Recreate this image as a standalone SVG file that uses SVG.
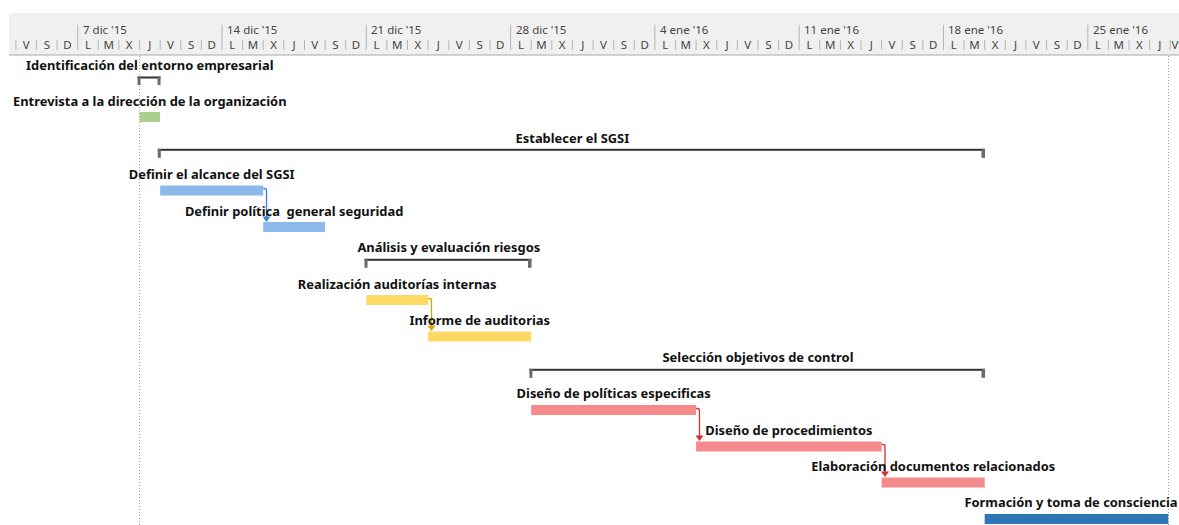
<svg xmlns="http://www.w3.org/2000/svg" width="1179" height="525" viewBox="0 0 1179 525">
<defs>
<style>
.hdr{font-family:"Noto Sans","Liberation Sans",sans-serif;font-size:11.5px;fill:#444}
.day{font-family:"Noto Sans","Liberation Sans",sans-serif;font-size:11.5px;fill:#444;text-anchor:middle}
.lbl{font-family:"Noto Sans","Liberation Sans",sans-serif;font-size:12.9px;font-weight:700;fill:#111;text-anchor:middle}
.tick{stroke:#b4b4b4;stroke-width:1}
.wk{stroke:#b4b4b4;stroke-width:1}
.dot{stroke:#9a9a9a;stroke-width:1;stroke-dasharray:1 2}
.btop{fill:#333}
.bleg{fill:#6a6a6a}
.g{fill:#a9d18e}
.b{fill:#8cb8ea}
.y{fill:#ffd966}
.r{fill:#f58a8a}
.d{fill:#2e75b6}
.cb{fill:none;stroke:#3c7fd6;stroke-width:1.3}
.cy{fill:none;stroke:#d9a400;stroke-width:1.3}
.cr{fill:none;stroke:#d32f2f;stroke-width:1.3}
</style>
</defs>
<rect x="0" y="0" width="1179" height="525" fill="#fff"/>
<g id="timescale">
<rect x="9" y="13" width="1170" height="42" fill="#f0f0f0"/>
<line x1="9" y1="55" x2="1179" y2="55" stroke="#a8a8a8" stroke-width="1"/>
<g>
<line class="tick" x1="15.9" y1="40" x2="15.9" y2="50"/>
<line class="tick" x1="36.5" y1="40" x2="36.5" y2="50"/>
<line class="tick" x1="57.1" y1="40" x2="57.1" y2="50"/>
<line class="wk" x1="77.7" y1="25" x2="77.7" y2="50"/>
<line class="tick" x1="98.3" y1="40" x2="98.3" y2="50"/>
<line class="tick" x1="118.9" y1="40" x2="118.9" y2="50"/>
<line class="tick" x1="139.5" y1="40" x2="139.5" y2="50"/>
<line class="tick" x1="160.2" y1="40" x2="160.2" y2="50"/>
<line class="tick" x1="180.8" y1="40" x2="180.8" y2="50"/>
<line class="tick" x1="201.4" y1="40" x2="201.4" y2="50"/>
<line class="wk" x1="222" y1="25" x2="222" y2="50"/>
<line class="tick" x1="242.6" y1="40" x2="242.6" y2="50"/>
<line class="tick" x1="263.2" y1="40" x2="263.2" y2="50"/>
<line class="tick" x1="283.8" y1="40" x2="283.8" y2="50"/>
<line class="tick" x1="304.5" y1="40" x2="304.5" y2="50"/>
<line class="tick" x1="325.1" y1="40" x2="325.1" y2="50"/>
<line class="tick" x1="345.7" y1="40" x2="345.7" y2="50"/>
<line class="wk" x1="366.3" y1="25" x2="366.3" y2="50"/>
<line class="tick" x1="386.9" y1="40" x2="386.9" y2="50"/>
<line class="tick" x1="407.5" y1="40" x2="407.5" y2="50"/>
<line class="tick" x1="428.1" y1="40" x2="428.1" y2="50"/>
<line class="tick" x1="448.8" y1="40" x2="448.8" y2="50"/>
<line class="tick" x1="469.4" y1="40" x2="469.4" y2="50"/>
<line class="tick" x1="490" y1="40" x2="490" y2="50"/>
<line class="wk" x1="510.6" y1="25" x2="510.6" y2="50"/>
<line class="tick" x1="531.2" y1="40" x2="531.2" y2="50"/>
<line class="tick" x1="551.8" y1="40" x2="551.8" y2="50"/>
<line class="tick" x1="572.4" y1="40" x2="572.4" y2="50"/>
<line class="tick" x1="593.1" y1="40" x2="593.1" y2="50"/>
<line class="tick" x1="613.7" y1="40" x2="613.7" y2="50"/>
<line class="tick" x1="634.3" y1="40" x2="634.3" y2="50"/>
<line class="wk" x1="654.9" y1="25" x2="654.9" y2="50"/>
<line class="tick" x1="675.5" y1="40" x2="675.5" y2="50"/>
<line class="tick" x1="696.1" y1="40" x2="696.1" y2="50"/>
<line class="tick" x1="716.7" y1="40" x2="716.7" y2="50"/>
<line class="tick" x1="737.4" y1="40" x2="737.4" y2="50"/>
<line class="tick" x1="758" y1="40" x2="758" y2="50"/>
<line class="tick" x1="778.6" y1="40" x2="778.6" y2="50"/>
<line class="wk" x1="799.2" y1="25" x2="799.2" y2="50"/>
<line class="tick" x1="819.8" y1="40" x2="819.8" y2="50"/>
<line class="tick" x1="840.4" y1="40" x2="840.4" y2="50"/>
<line class="tick" x1="861" y1="40" x2="861" y2="50"/>
<line class="tick" x1="881.6" y1="40" x2="881.6" y2="50"/>
<line class="tick" x1="902.3" y1="40" x2="902.3" y2="50"/>
<line class="tick" x1="922.9" y1="40" x2="922.9" y2="50"/>
<line class="wk" x1="943.5" y1="25" x2="943.5" y2="50"/>
<line class="tick" x1="964.1" y1="40" x2="964.1" y2="50"/>
<line class="tick" x1="984.7" y1="40" x2="984.7" y2="50"/>
<line class="tick" x1="1005.3" y1="40" x2="1005.3" y2="50"/>
<line class="tick" x1="1025.9" y1="40" x2="1025.9" y2="50"/>
<line class="tick" x1="1046.6" y1="40" x2="1046.6" y2="50"/>
<line class="tick" x1="1067.2" y1="40" x2="1067.2" y2="50"/>
<line class="wk" x1="1087.8" y1="25" x2="1087.8" y2="50"/>
<line class="tick" x1="1108.4" y1="40" x2="1108.4" y2="50"/>
<line class="tick" x1="1129" y1="40" x2="1129" y2="50"/>
<line class="tick" x1="1149.6" y1="40" x2="1149.6" y2="50"/>
<line class="tick" x1="1170.2" y1="40" x2="1170.2" y2="50"/>
</g>
<g>
<text class="hdr" x="83" y="34">7 dic '15</text>
<text class="hdr" x="227" y="34">14 dic '15</text>
<text class="hdr" x="371" y="34">21 dic '15</text>
<text class="hdr" x="516" y="34">28 dic '15</text>
<text class="hdr" x="660" y="34">4 ene '16</text>
<text class="hdr" x="804" y="34">11 ene '16</text>
<text class="hdr" x="948" y="34">18 ene '16</text>
<text class="hdr" x="1093" y="34">25 ene '16</text>
</g>
<g>
<text class="day" x="26.2" y="48.5">V</text>
<text class="day" x="46.8" y="48.5">S</text>
<text class="day" x="67.4" y="48.5">D</text>
<text class="day" x="88" y="48.5">L</text>
<text class="day" x="108.6" y="48.5">M</text>
<text class="day" x="129.2" y="48.5">X</text>
<text class="day" x="149.8" y="48.5">J</text>
<text class="day" x="170.5" y="48.5">V</text>
<text class="day" x="191.1" y="48.5">S</text>
<text class="day" x="211.7" y="48.5">D</text>
<text class="day" x="232.3" y="48.5">L</text>
<text class="day" x="252.9" y="48.5">M</text>
<text class="day" x="273.5" y="48.5">X</text>
<text class="day" x="294.1" y="48.5">J</text>
<text class="day" x="314.8" y="48.5">V</text>
<text class="day" x="335.4" y="48.5">S</text>
<text class="day" x="356" y="48.5">D</text>
<text class="day" x="376.6" y="48.5">L</text>
<text class="day" x="397.2" y="48.5">M</text>
<text class="day" x="417.8" y="48.5">X</text>
<text class="day" x="438.4" y="48.5">J</text>
<text class="day" x="459.1" y="48.5">V</text>
<text class="day" x="479.7" y="48.5">S</text>
<text class="day" x="500.3" y="48.5">D</text>
<text class="day" x="520.9" y="48.5">L</text>
<text class="day" x="541.5" y="48.5">M</text>
<text class="day" x="562.1" y="48.5">X</text>
<text class="day" x="582.7" y="48.5">J</text>
<text class="day" x="603.4" y="48.5">V</text>
<text class="day" x="624" y="48.5">S</text>
<text class="day" x="644.6" y="48.5">D</text>
<text class="day" x="665.2" y="48.5">L</text>
<text class="day" x="685.8" y="48.5">M</text>
<text class="day" x="706.4" y="48.5">X</text>
<text class="day" x="727" y="48.5">J</text>
<text class="day" x="747.7" y="48.5">V</text>
<text class="day" x="768.3" y="48.5">S</text>
<text class="day" x="788.9" y="48.5">D</text>
<text class="day" x="809.5" y="48.5">L</text>
<text class="day" x="830.1" y="48.5">M</text>
<text class="day" x="850.7" y="48.5">X</text>
<text class="day" x="871.3" y="48.5">J</text>
<text class="day" x="892" y="48.5">V</text>
<text class="day" x="912.6" y="48.5">S</text>
<text class="day" x="933.2" y="48.5">D</text>
<text class="day" x="953.8" y="48.5">L</text>
<text class="day" x="974.4" y="48.5">M</text>
<text class="day" x="995" y="48.5">X</text>
<text class="day" x="1015.6" y="48.5">J</text>
<text class="day" x="1036.3" y="48.5">V</text>
<text class="day" x="1056.9" y="48.5">S</text>
<text class="day" x="1077.5" y="48.5">D</text>
<text class="day" x="1098.1" y="48.5">L</text>
<text class="day" x="1118.7" y="48.5">M</text>
<text class="day" x="1139.3" y="48.5">X</text>
<text class="day" x="1159.9" y="48.5">J</text>
<text class="day" x="1175" y="48.5">V</text>
</g>
</g>
<g id="gridlines">
<line class="dot" x1="139.5" y1="56" x2="139.5" y2="525"/>
<line class="dot" x1="1168.5" y1="56" x2="1168.5" y2="525"/>
</g>
<g id="connectors">
<path class="cb" d="M263.2,188.5 H264.5 Q266.5,188.5 266.5,190.5 V217"/>
<polygon points="262.5,216.5 270.5,216.5 266.5,222" fill="#3c7fd6"/>
<path class="cy" d="M428.1,298.5 H429.5 Q431.5,298.5 431.5,300.5 V326"/>
<polygon points="427.5,325.5 435.5,325.5 431.5,331" fill="#d9a400"/>
<path class="cr" d="M696.1,408.5 H697.5 Q699.5,408.5 699.5,410.5 V436"/>
<polygon points="695.5,435.5 703.5,435.5 699.5,441" fill="#d32f2f"/>
<path class="cr" d="M881.6,444.5 H883 Q885,444.5 885,446.5 V472"/>
<polygon points="881,471.5 889,471.5 885,477" fill="#d32f2f"/>
</g>
<g id="t0">
<text class="lbl" x="149.8" y="70">Identificación del entorno empresarial</text>
<rect class="btop" x="137.5" y="76.5" width="23" height="2"/>
<rect class="bleg" x="137.5" y="76.5" width="3" height="8.5"/>
<rect class="bleg" x="157.5" y="76.5" width="3" height="8.5"/>
</g>
<g id="t1">
<text class="lbl" x="149.8" y="106">Entrevista a la dirección de la organización</text>
<rect class="g" x="139.5" y="112" width="20.6" height="10"/>
</g>
<g id="t2">
<text class="lbl" x="572.4" y="142.5">Establecer el SGSI</text>
<rect class="btop" x="157.8" y="148.8" width="827" height="2"/>
<rect class="bleg" x="157.8" y="148.8" width="3" height="9"/>
<rect class="bleg" x="981.5" y="148.8" width="3.5" height="9"/>
</g>
<g id="t3">
<text class="lbl" x="211.7" y="179">Definir el alcance del SGSI</text>
<rect class="b" x="160.2" y="185.5" width="103" height="10"/>
</g>
<g id="t4">
<text class="lbl" x="294.1" y="215.5" xml:space="preserve">Definir política  general seguridad</text>
<rect class="b" x="263.2" y="222" width="61.9" height="10"/>
</g>
<g id="t5">
<text class="lbl" x="448.8" y="252">Análisis y evaluación riesgos</text>
<rect class="btop" x="364.5" y="258.8" width="167" height="2"/>
<rect class="bleg" x="364.5" y="258.8" width="3" height="9"/>
<rect class="bleg" x="528" y="258.8" width="3.5" height="9"/>
</g>
<g id="t6">
<text class="lbl" x="397.2" y="288.5">Realización auditorías internas</text>
<rect class="y" x="366.3" y="295" width="61.8" height="10"/>
</g>
<g id="t7">
<text class="lbl" x="479.7" y="325">Informe de auditorias</text>
<rect class="y" x="428.1" y="331.5" width="103.1" height="10"/>
</g>
<g id="t8">
<text class="lbl" x="758" y="361.5">Selección objetivos de control</text>
<rect class="btop" x="529.4" y="368.8" width="455.6" height="2"/>
<rect class="bleg" x="529.4" y="368.8" width="3" height="9"/>
<rect class="bleg" x="981.5" y="368.8" width="3.5" height="9"/>
</g>
<g id="t9">
<text class="lbl" x="613.7" y="398">Diseño de políticas especificas</text>
<rect class="r" x="531.2" y="405" width="164.9" height="10"/>
</g>
<g id="t10">
<text class="lbl" x="788.9" y="434.5">Diseño de procedimientos</text>
<rect class="r" x="696.1" y="441.5" width="185.5" height="10"/>
</g>
<g id="t11">
<text class="lbl" x="933.2" y="471">Elaboración documentos relacionados</text>
<rect class="r" x="881.6" y="477.5" width="103.1" height="10"/>
</g>
<g id="t12">
<text class="lbl" x="1071" y="507">Formación y toma de consciencia</text>
<rect class="d" x="984.7" y="514" width="183.6" height="10"/>
</g>
</svg>
